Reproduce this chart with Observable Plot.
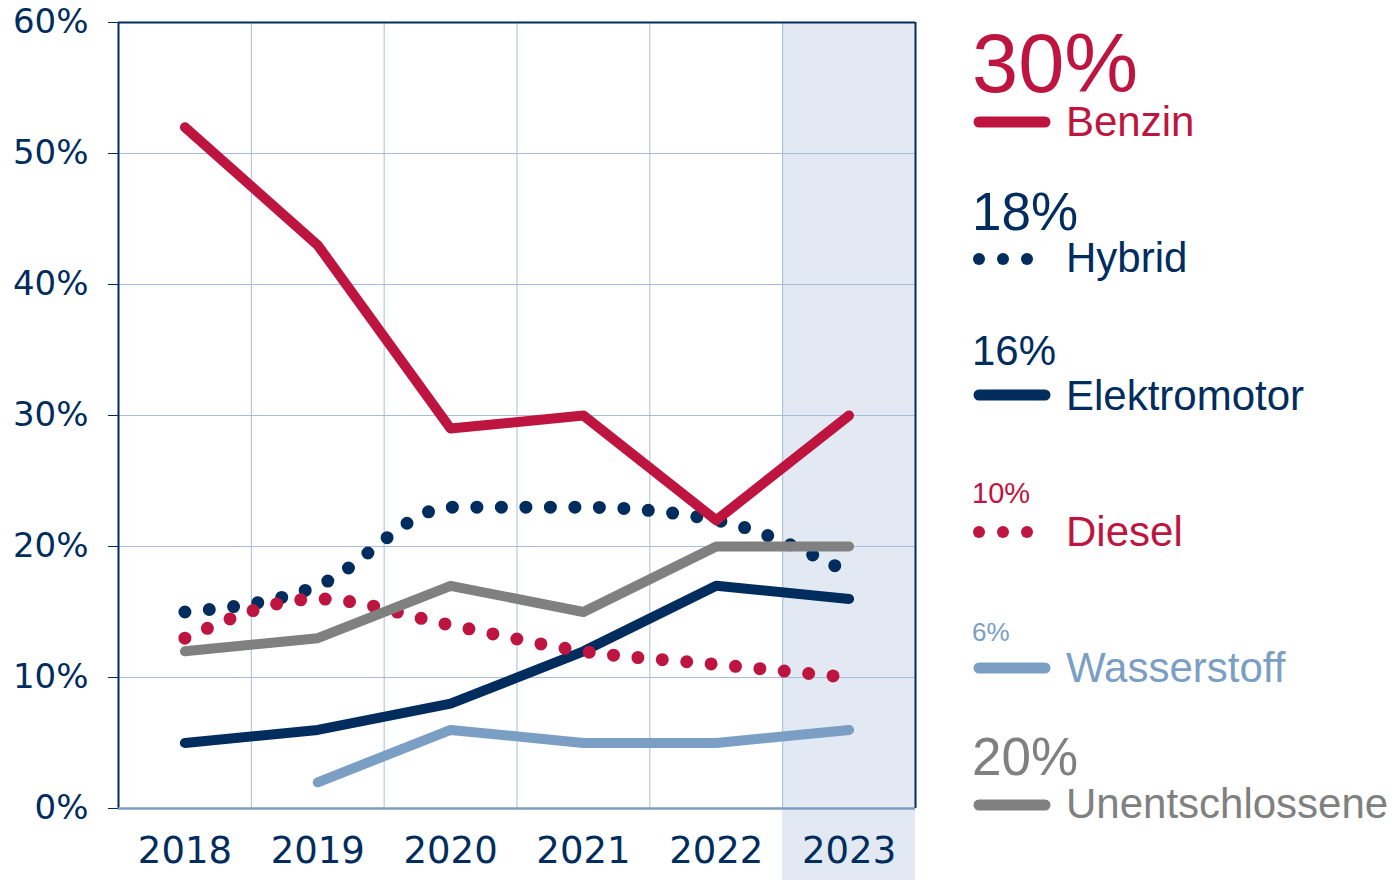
<!DOCTYPE html>
<html>
<head>
<meta charset="utf-8">
<script src="https://cdn.jsdelivr.net/npm/d3@7"></script>
<script src="https://cdn.jsdelivr.net/npm/@observablehq/plot@0.6"></script>
<style>
  html, body { margin: 0; padding: 0; background: #fff; }
  #wrap { position: relative; width: 1394px; height: 880px; overflow: hidden; }
  #legend { position: absolute; left: 0; top: 0; pointer-events: none; }
</style>
</head>
<body>
<div id="wrap"></div>
<script>
// ---- data ----
const years = [2018, 2019, 2020, 2021, 2022, 2023];
const benzin = [52, 43, 29, 30, 22, 30];
const hybrid = [15, 17, 23, 23, 22, 18];
const elektromotor = [5, 6, 8, 12, 17, 16];
const diesel = [13, 16, 14, 12, 11, 10];
const wasserstoff = [null, 2, 6, 5, 5, 6];
const unentschlossene = [12, 13, 17, 15, 20, 20];
const yTicks = [0, 10, 20, 30, 40, 50, 60];
const seriesNames = ["Benzin", "Hybrid", "Elektromotor", "Diesel", "Wasserstoff", "Unentschlossene"];
const highlightYear = 2023;

// ---- styles ----
const C = {
  crimson: "#BE1540",
  navy: "#002D5E",
  lightblue: "#7A9EC4",
  gray: "#808080",
  band: "#E2E9F2",
  grid: "#A7BDD9",
  baseline: "#7F9DC0"
};
const seriesValues = [benzin, hybrid, elektromotor, diesel, wasserstoff, unentschlossene];
const seriesStyle = {
  Benzin: {color: C.crimson, dotted: false},
  Hybrid: {color: C.navy, dotted: true},
  Elektromotor: {color: C.navy, dotted: false},
  Diesel: {color: C.crimson, dotted: true},
  Wasserstoff: {color: C.lightblue, dotted: false},
  Unentschlossene: {color: C.gray, dotted: false}
};
const drawOrder = ["Hybrid", "Elektromotor", "Diesel", "Wasserstoff", "Unentschlossene", "Benzin"];

const rows = name => {
  const vals = seriesValues[seriesNames.indexOf(name)];
  return years.map((y, i) => ({year: y, value: vals[i], series: name})).filter(d => d.value != null);
};

const lineMarks = drawOrder.map(name => {
  const s = seriesStyle[name];
  return s.dotted
    ? Plot.line(rows(name), {x: "year", y: "value", stroke: s.color, strokeWidth: 13,
        strokeDasharray: "0 24.5", strokeLinecap: "round", curve: "monotone-x"})
    : Plot.line(rows(name), {x: "year", y: "value", stroke: s.color, strokeWidth: 10,
        strokeLinecap: "round", strokeLinejoin: "round"});
});

const chart = Plot.plot({
  width: 930,
  height: 880,
  marginLeft: 118,
  marginRight: 15,
  marginTop: 22,
  marginBottom: 72,
  style: {background: "transparent", overflow: "visible", fontFamily: "'DejaVu Sans', Verdana, sans-serif"},
  x: {type: "linear", domain: [years[0] - 0.5, years[years.length - 1] + 0.5]},
  y: {domain: [yTicks[0], yTicks[yTicks.length - 1]]},
  marks: [
    Plot.rect([highlightYear], {x1: d => d - 0.5, x2: d => d + 0.5, y1: 60, y2: -5.5, fill: C.band, clip: false}),
    Plot.gridY(yTicks, {stroke: C.grid, strokeOpacity: 1, strokeWidth: 1}),
    Plot.ruleX(years.slice(0, -1), {x: d => d + 0.5, y1: 0, y2: 60, stroke: C.grid, strokeWidth: 1}),
    Plot.ruleX([years[0] - 0.5], {y1: 0, y2: 60, stroke: C.navy, strokeWidth: 2}),
    Plot.ruleX([years[years.length - 1] + 0.5], {y1: 0, y2: 60, stroke: C.navy, strokeWidth: 2}),
    Plot.ruleY([60], {stroke: C.navy, strokeWidth: 2}),
    Plot.ruleY([0], {stroke: C.baseline, strokeWidth: 2.5}),
    Plot.axisY({ticks: yTicks, tickFormat: d => d + "%", tickSize: 10, tickPadding: 20,
      stroke: C.navy, fill: C.navy, fontSize: 34, label: null}),
    Plot.axisX({ticks: years, tickFormat: d => String(d), tickSize: 0, tickPadding: 28,
      fill: C.navy, fontSize: 37, label: null}),
    ...lineMarks
  ]
});
document.getElementById("wrap").appendChild(chart);

// ---- legend ----
const L = {
  pctSize: [83, 53, 42, 29, 26, 53],
  pctBase: [92, 230, 365, 503, 641, 775],
  sampleY: [122, 259, 395, 532, 668, 805],
  labelBase: [136, 272, 410, 546, 682, 818],
  x0: 972, labelX: 1066, labelSize: 42
};
const svg = d3.select("#wrap").append("svg")
  .attr("id", "legend").attr("width", 1394).attr("height", 880)
  .style("font-family", "'Liberation Sans', Arial, sans-serif");
seriesNames.forEach((name, i) => {
  const s = seriesStyle[name];
  const vals = seriesValues[i];
  const last = vals[vals.length - 1];
  svg.append("text").attr("x", L.x0).attr("y", L.pctBase[i])
    .attr("fill", s.color).attr("font-size", L.pctSize[i]).text(last + "%");
  if (s.dotted) {
    [979, 1003, 1027].forEach(cx => svg.append("circle").attr("cx", cx).attr("cy", L.sampleY[i]).attr("r", 6).attr("fill", s.color));
  } else {
    svg.append("line").attr("x1", 979).attr("x2", 1045).attr("y1", L.sampleY[i]).attr("y2", L.sampleY[i])
      .attr("stroke", s.color).attr("stroke-width", 11).attr("stroke-linecap", "round");
  }
  svg.append("text").attr("x", L.labelX).attr("y", L.labelBase[i])
    .attr("fill", s.color).attr("font-size", L.labelSize).text(name);
});
</script>
</body>
</html>
